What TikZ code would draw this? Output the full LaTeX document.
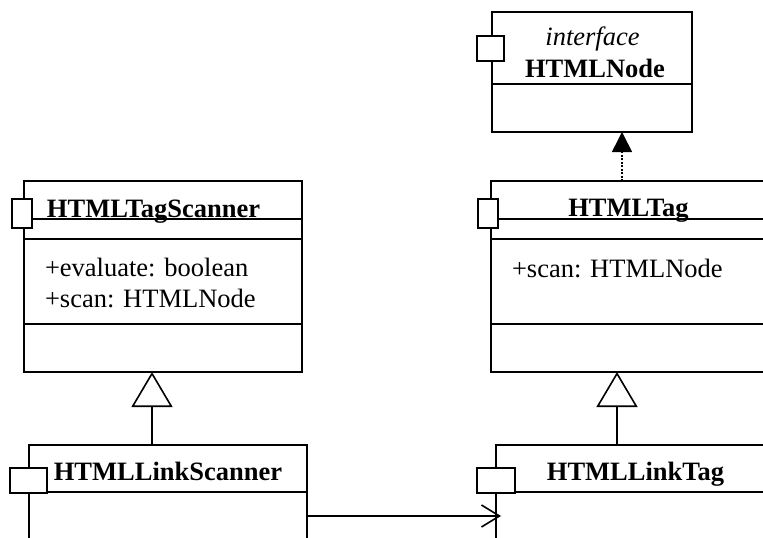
\documentclass[tikz,border=0pt]{standalone}
\usepackage{fontspec}
\setmainfont{Liberation Serif}
\usetikzlibrary{arrows.meta}
\begin{document}
\begin{tikzpicture}[x=1pt,y=-1pt,
  every node/.style={inner sep=0pt, outer sep=0pt},
  ln/.style={line width=1.6pt},
  classbox/.style={draw, line width=1.6pt, fill=white, anchor=north west},
  port/.style={draw, line width=1.6pt, fill=white, anchor=north west},
  txt/.style={font=\fontsize{26.5}{30}\selectfont, anchor=base},
  member/.style={txt, anchor=base west},
  realize/.style={line width=1.6pt, dash pattern=on 2pt off 1.5pt,
    -{Triangle[length=20pt,width=20pt]}},
  inherit/.style={line width=1.6pt,
    -{Triangle[open,length=35pt,width=41pt,fill=white]}},
  assoc/.style={line width=1.6pt,
    -{Straight Barb[length=18pt,width=22pt]}, shorten >=-5pt}
]
\useasboundingbox (0,0) rectangle (763,538);
\clip (0,0) rectangle (763,538);

% class frames
\node[classbox, minimum width=200pt, minimum height=120pt] (nodebox) at (492,12) {};
\node[classbox, minimum width=278pt, minimum height=191pt] (scanbox) at (24,181) {};
\node[classbox, minimum width=274pt, minimum height=191pt] (tagbox) at (491,181) {};
\node[classbox, minimum width=278pt, minimum height=120pt] (lscanbox) at (29,445) {};
\node[classbox, minimum width=279pt, minimum height=120pt] (ltagbox) at (496,445) {};

% compartment separators
\draw[ln] (492,84) -- (692,84);
\foreach \y in {219,239,324} {
  \draw[ln] (24,\y) -- (302,\y);
  \draw[ln] (491,\y) -- (765,\y);
}
\draw[ln] (29,492) -- (307,492);
\draw[ln] (496,492) -- (775,492);

% component ports
\node[port, minimum width=27pt, minimum height=25pt] (p1) at (477,36) {};
\node[port, minimum width=20pt, minimum height=29pt] (p2) at (12,199) {};
\node[port, minimum width=20pt, minimum height=29pt] (p3) at (478,199) {};
\node[port, minimum width=37pt, minimum height=25pt] (p4) at (10,468) {};
\node[port, minimum width=38pt, minimum height=25pt] (p5) at (477,468) {};

% names and members
\node[txt] (t1) at (592.5,45) {\itshape interface};
\node[txt] (t2) at (595,77) {\bfseries HTMLNode};
\node[txt] (t3) at (153.5,217) {\bfseries HTMLTagScanner};
\node[txt] (t4) at (628.5,216) {\bfseries HTMLTag};
\node[member] (m1) at (45,276) {+evaluate: boolean};
\node[member] (m2) at (45,307) {+scan: HTMLNode};
\node[member] (m3) at (512,277) {+scan: HTMLNode};
\node[txt] (t5) at (168,480) {\bfseries HTMLLinkScanner};
\node[txt] (t6) at (635.5,480) {\bfseries HTMLLinkTag};

% connector positions
\coordinate (gx1) at (622,0);
\coordinate (gx2) at (152,0);
\coordinate (gx3) at (617,0);
\coordinate (ay) at (0,516);

% relations
\draw[realize] (tagbox.north -| gx1) -- (nodebox.south -| gx1);
\draw[inherit] (lscanbox.north -| gx2) -- (scanbox.south -| gx2);
\draw[inherit] (ltagbox.north -| gx3) -- (tagbox.south -| gx3);
\draw[assoc] (lscanbox.east |- ay) -- (ltagbox.west |- ay);
\end{tikzpicture}
\end{document}
